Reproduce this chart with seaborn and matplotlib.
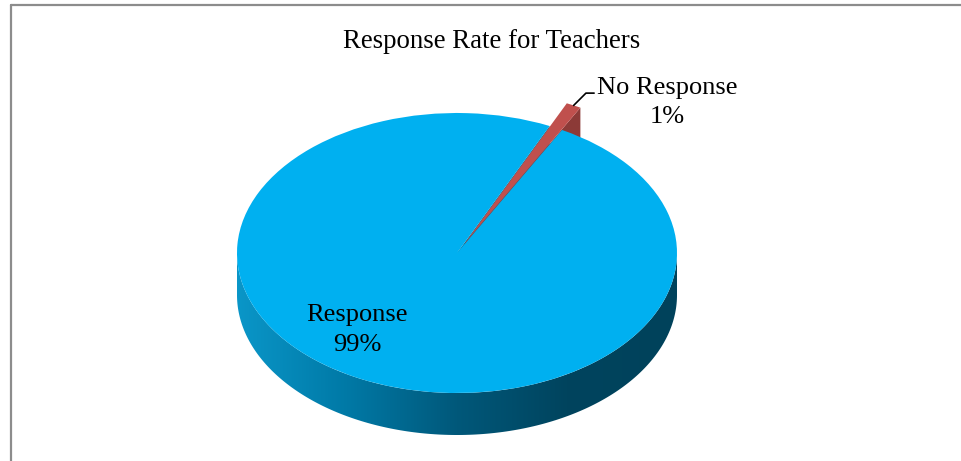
import numpy as np
import matplotlib
matplotlib.use("Agg")
import matplotlib.pyplot as plt
import seaborn as sns
from matplotlib.patches import Polygon
from matplotlib.colors import LinearSegmentedColormap
from matplotlib.lines import Line2D

categories = ["Response", "No Response"]
shares = [99, 1]
title = "Response Rate for Teachers"

top_colors = ["#00B0F0", "#C0504D"]
side_dark_red = "#8C3A37"
DEPTH = 0.30  # pie thickness, in pie radii (vertical)

sns.set_theme(style="white")
plt.rcParams["font.family"] = ["Liberation Serif", "DejaVu Serif"]

W, H = 962, 461
fig = plt.figure(figsize=(W / 100, H / 100), dpi=100)
ax = fig.add_axes([0, 0, 1, 1])

wedges, _ = ax.pie(
    shares,
    colors=top_colors,
    startangle=61.5,
    counterclock=False,
    explode=[0, 0.08],
    wedgeprops=dict(linewidth=0, zorder=5),
)

# squash the circle into the tilted ellipse of the picture
cx, cy = 457, 253          # pixel centre of the top face
rx, ry = 220, 140          # pixel radii
ax.set_aspect("auto")
ax.set_xlim(-cx / rx, (W - cx) / rx)
ax.set_ylim(-(H - cy) / ry, cy / ry)
ax.axis("off")

big, small = wedges
small.set_radius(1.1)  # the exploded slice sits a little proud of the rim

# front rim of the big slice, shaded with a horizontal gradient
t = np.linspace(np.pi, 2 * np.pi, 200)
top_edge = np.column_stack([np.cos(t), np.sin(t)])
bot_edge = top_edge[::-1] - [0, DEPTH]
rim = Polygon(np.vstack([top_edge, bot_edge]), closed=True,
              facecolor="none", edgecolor="none", zorder=3)
ax.add_patch(rim)
rim_cmap = LinearSegmentedColormap.from_list(
    "rim", ["#0A96C8", "#0079A6", "#00587A", "#00445E", "#00425B"])
grad = np.linspace(0, 1, 256).reshape(1, -1)
img = ax.imshow(grad, cmap=rim_cmap, aspect="auto",
                extent=(-1, 1, -1 - DEPTH, 0), zorder=3)
img.set_clip_path(rim)

# visible cut face of the big slice inside the gap
a_gap = np.deg2rad(small.theta2)
gap_face = np.array([[0, 0], [np.cos(a_gap), np.sin(a_gap)],
                     [np.cos(a_gap), np.sin(a_gap) - DEPTH], [0, -DEPTH]])
ax.add_patch(Polygon(gap_face, closed=True, facecolor="#0A6F95",
                     edgecolor="none", zorder=2))

# visible cut face of the small exploded slice
scx, scy = small.center
a1 = np.deg2rad(small.theta1)
r = small.r
face = np.array([[scx, scy],
                 [scx + r * np.cos(a1), scy + r * np.sin(a1)],
                 [scx + r * np.cos(a1), scy + r * np.sin(a1) - DEPTH],
                 [scx, scy - DEPTH]])
ax.add_patch(Polygon(face, closed=True, facecolor=side_dark_red,
                     edgecolor="none", zorder=2))
small.set_zorder(6)

# labels
ax.text(-0.455, -0.55, f"{categories[0]}\n{shares[0]}%", ha="center",
        va="center", fontsize=19, linespacing=1.45, color="black", zorder=8)

a_mid = np.deg2rad((small.theta1 + small.theta2) / 2)
tip = (scx + r * np.cos(a_mid), scy + r * np.sin(a_mid))
ax.annotate(
    f"{categories[1]}\n{shares[1]}%",
    xy=tip, xycoords="data",
    xytext=(94, 3), textcoords="offset pixels",
    ha="center", va="center", fontsize=19, linespacing=1.45, color="black",
    arrowprops=dict(arrowstyle="-", color="black", lw=1.2,
                    shrinkA=0, shrinkB=0, relpos=(0, 0.68),
                    connectionstyle="angle,angleA=0,angleB=45,rad=0"),
    zorder=8,
)

fig.text(492 / W, 1 - 42 / H, title, ha="center", va="center",
         fontsize=19.3, color="black")

# chart-area border (top and left edges are visible)
fig.add_artist(Line2D([10.5 / W, 10.5 / W], [0, 1 - 5.5 / H],
                      color="#8C8C8C", lw=1.6, transform=fig.transFigure))
fig.add_artist(Line2D([10.5 / W, 1], [1 - 5.5 / H, 1 - 5.5 / H],
                      color="#8C8C8C", lw=1.6, transform=fig.transFigure))

fig.savefig("out.png", dpi=100, facecolor="white")
